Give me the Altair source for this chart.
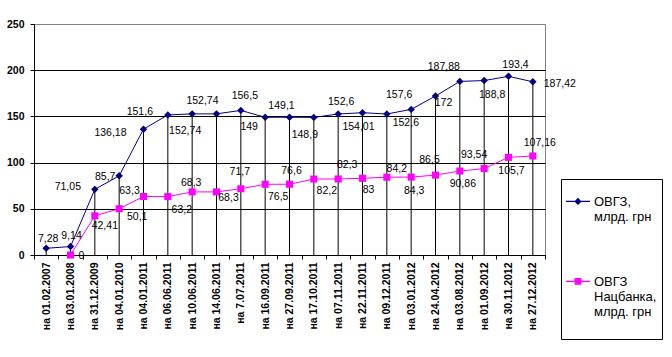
import altair as alt
import pandas as pd

# ---------------- data ----------------
dates = ["на 01.02.2007", "на 03.01.2008", "на 31.12.2009", "на 04.01.2010",
         "на 04.01.2011", "на 06.06.2011", "на 10.06.2011", "на 14.06.2011",
         "на 7.07.2011", "на 16.09.2011", "на 27.09.2011", "на 17.10.2011",
         "на 07.11.2011", "на 22.11.2011", "на 09.12.2011", "на 03.01.2012",
         "на 24.04.2012", "на 03.08.2012", "на 01.09.2012", "на 30.11.2012",
         "на 27.12.2012"]
ovgz = [7.28, 9.14, 71.05, 85.7, 136.18, 151.6, 152.74, 152.74, 156.5, 149,
        149.1, 148.9, 152.6, 154.01, 152.6, 157.6, 172, 187.88, 188.8, 193.4,
        187.42]
nbu = [None, 0, 42.41, 50.1, 63.3, 63.2, 68.3, 68.3, 71.7, 76.5, 76.6, 82.2,
       82.3, 83, 84.2, 84.3, 86.5, 90.86, 93.54, 105.7, 107.16]
series_names = ["ОВГЗ,|млрд. грн", "ОВГЗ|Нацбанка,|млрд. грн"]
y_ticks = [0, 50, 100, 150, 200, 250]

# ---------------- styling (label placement in pixels) ----------------
blue_off = [(2, -9), (1, -11), (-27, -2), (-14, 1), (-33, 4), (-28, -3), (-7, 17),
            (-14, -13), (4, -14), (-16, 10), (-8, -11), (-9, 18), (3, -12), (-4, 14),
            (19, 9), (-12, -14), (8, 7), (-16, -14), (8, 14), (7, -11), (27, 2)]
pink_off = [None, (11, 1), (10, 10), (18, 8), (-14, -6), (14, 13), (-1, -9), (12, 6),
            (-1, -17), (13, 13), (2, -13), (13, 12), (9, -14), (6, 12), (10, -8),
            (3, 14), (-6, -15), (3, 13), (-10, -14), (3, 14), (7, -13)]

W, H = 511, 231
BW = W / len(dates)
PPU = H / 250.0
BLUE, PINK = "#000080", "#FF00FF"
FONT = "Liberation Sans"


def fmt(v):
    return f"{v:g}".replace(".", ",")


rows = []
for i, d in enumerate(dates):
    rows.append(dict(cat=d, value=ovgz[i], s="blue", lab=fmt(ovgz[i]),
                     dx=blue_off[i][0], ly=ovgz[i] - blue_off[i][1] / PPU))
    if nbu[i] is not None:
        rows.append(dict(cat=d, value=nbu[i], s="pink", lab=fmt(nbu[i]),
                         dx=pink_off[i][0], ly=nbu[i] - pink_off[i][1] / PPU))
df = pd.DataFrame(rows)

xenc = alt.X("cat:N", sort=dates, scale=alt.Scale(paddingInner=0, paddingOuter=0),
             axis=alt.Axis(title=None, labelAngle=-90, tickBand="extent", tickSize=4,
                           tickColor="black", domainColor="black", labelPadding=3,
                           labelFont=FONT, labelFontSize=10.5, labelFontWeight="bold",
                           labelColor="black", grid=False))
yscale = alt.Scale(domain=[0, 250], nice=False)
yenc = alt.Y("value:Q", scale=yscale,
             axis=alt.Axis(title=None, values=y_ticks, tickSize=4, tickColor="black",
                           domainColor="black", labelPadding=6, labelFont=FONT,
                           labelFontSize=10.5, labelFontWeight="bold", labelColor="black",
                           grid=True,
                           gridColor=alt.condition("datum.value == 250",
                                                   alt.value("#808080"),
                                                   alt.value("black"))))

base = alt.Chart(df)

drops = base.transform_filter("datum.s == 'blue'").transform_calculate(zero="0").mark_rule(
    color="black", strokeWidth=1).encode(x=xenc, y=yenc, y2="zero:Q")

blue = df[df.s == "blue"]
pink = df[df.s == "pink"]

blue_line = alt.Chart(blue).mark_line(color=BLUE, strokeWidth=1).encode(x=xenc, y=yenc)
pink_line = alt.Chart(pink).mark_line(color=PINK, strokeWidth=1).encode(x=xenc, y=yenc)
blue_pts = alt.Chart(blue).mark_point(shape="diamond", filled=True, size=55, color=BLUE,
                                      opacity=1).encode(x=xenc, y=yenc)
pink_pts = alt.Chart(pink).mark_point(shape="square", filled=True, size=50, color=PINK,
                                      opacity=1).encode(x=xenc, y=yenc)

labels = base.mark_text(font=FONT, fontSize=10.5, color="black", align="center",
                        baseline="middle").encode(
    x=xenc,
    xOffset=alt.XOffset("dx:Q", scale=alt.Scale(domain=[-100, 100],
                                                range=[BW / 2 - 100, BW / 2 + 100])),
    y=alt.Y("ly:Q", scale=yscale),
    text="lab:N")

sh = 0.45
line_rect = f"M-1,{-0.045+sh}L1,{-0.045+sh}L1,{0.045+sh}L-1,{0.045+sh}Z"
diamond = f"M0,{-0.3+sh}L0.3,{sh}L0,{0.3+sh}L-0.3,{sh}Z"
square = f"M-0.28,{-0.28+sh}L0.28,{-0.28+sh}L0.28,{0.28+sh}L-0.28,{0.28+sh}Z"

leg = alt.Legend(title=None, orient="none", legendX=527, legendY=155,
                 strokeColor="black", fillColor="white", padding=5,
                 symbolSize=576, symbolStrokeWidth=0, labelFont=FONT, labelFontSize=13,
                 labelColor="black", labelBaseline="top", labelOffset=4, labelLimit=300,
                 rowPadding=25, labelExpr="split(datum.label + '| ', '|')")

legend_layer = alt.Chart(pd.DataFrame({"series": series_names})).mark_point(
    filled=True, clip=True, opacity=1).encode(
    x=alt.value(-500), y=alt.value(-500),
    color=alt.Color("series:N", scale=alt.Scale(domain=series_names, range=[BLUE, PINK]),
                    legend=leg),
    shape=alt.Shape("series:N", scale=alt.Scale(domain=series_names,
                                                range=[line_rect + diamond, line_rect + square]),
                    legend=leg))

chart = alt.layer(drops, blue_line, pink_line, blue_pts, pink_pts, labels, legend_layer).properties(
    width=W, height=H,
    autosize=alt.AutoSizeParams(type="none"),
    padding={"left": 34, "top": 24, "right": 127, "bottom": 102},
    background="white",
).configure_view(stroke="#808080", strokeWidth=1)

chart.save("out.html", embed_options={"renderer": "svg", "actions": False})
